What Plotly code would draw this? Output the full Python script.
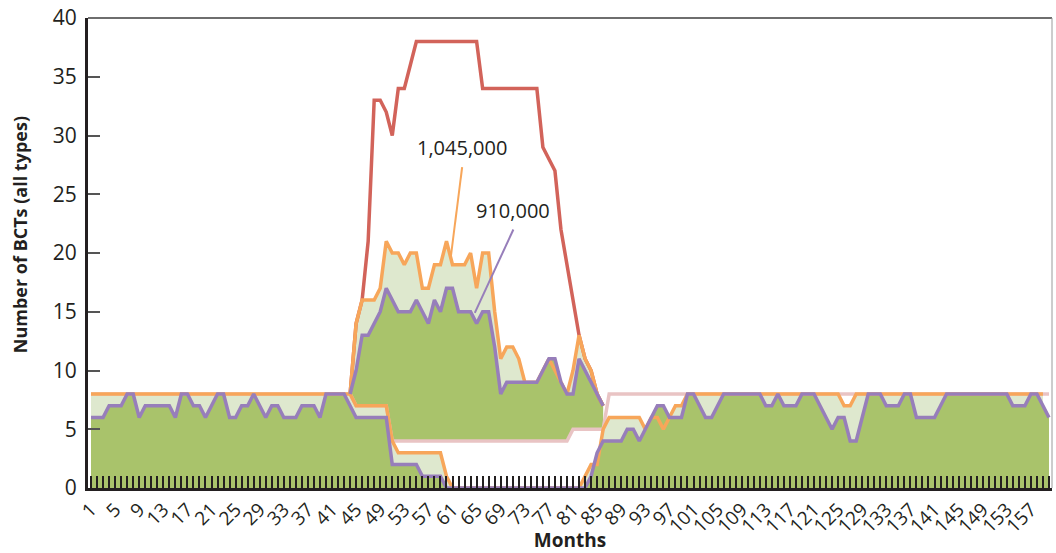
import plotly.graph_objects as go

months = list(range(1, 161))
deploy_months = list(range(44, 87))

# "home"/lower series, months 1..160
orange_home = ([8] * 44 + [7] * 6 + [4] + [3] * 8 + [1] + [0] * 22 +
               [1, 2, 2, 5, 6, 6, 6, 6, 6, 6, 5, 6, 6, 5, 6, 7, 7] +
               [8] * 26 + [7, 7] + [8] * 32)
purple_home = ([6, 6, 6, 7, 7, 7, 8, 8, 6, 7, 7, 7, 7, 7, 6, 8, 8, 7, 7, 6,
                7, 8, 8, 6, 6, 7, 7, 8, 7, 6, 7, 7, 6, 6, 6, 7, 7, 7, 6, 8,
                8, 8, 8, 7] +
               [6] * 6 + [2] * 5 + [1] * 4 + [0] * 24 +
               [1, 3, 4, 4, 4, 4, 5, 5, 4, 5, 6, 7, 7, 6, 6, 6, 8, 8, 7, 6,
                6, 7, 8, 8, 8, 8, 8, 8, 8, 7, 7, 8, 7, 7, 7, 8, 8, 8, 7, 6,
                5, 6, 6, 4, 4, 6, 8, 8, 8, 7, 7, 7, 8, 8, 6, 6, 6, 6, 7, 8,
                8, 8, 8, 8, 8, 8, 8, 8, 8, 8, 7, 7, 7, 8, 8, 7, 6, 5])
pink_home = [8] * 44 + [7] * 6 + [4] * 30 + [5] * 6 + [8] * 74

# deployed/upper series, months 44..86
red_deployed = [8, 14, 16, 21, 33, 33, 32, 30, 34, 34, 36, 38, 38, 38, 38, 38,
                38, 38, 38, 38, 38, 38, 34, 34, 34, 34, 34, 34, 34, 34, 34, 34,
                29, 28, 27, 22, 19, 16, 13, 11, 10, 8, 7]
orange_deployed = [8, 14, 16, 16, 16, 17, 21, 20, 20, 19, 20, 20, 17, 17, 19, 19,
                   21, 19, 19, 19, 20, 17, 20, 20, 15, 11, 12, 12, 11, 9, 9, 9,
                   10, 11, 10, 9, 8, 10, 13, 11, 10, 8, 7]
purple_deployed = [8, 10, 13, 13, 14, 15, 17, 16, 15, 15, 15, 16, 15, 14, 16, 15,
                   17, 17, 15, 15, 15, 14, 15, 15, 12, 8, 9, 9, 9, 9, 9, 9,
                   10, 11, 11, 9, 8, 8, 11, 10, 9, 8, 7]

tick_labels = [str(m) if (m - 1) % 4 == 0 else "" for m in months]
y_ticks = [0, 5, 10, 15, 20, 25, 30, 35, 40]

RED = "#D2635A"
ORANGE = "#F7A65A"
PURPLE = "#977EBA"
PINK = "#E9C4C4"
DARK_GREEN = "#A9C36B"
LIGHT_GREEN = "#DEE8CE"
FONT = "Open Sans"
TXT = "#231F20"

fig = go.Figure()


def area(x, y, color):
    fig.add_trace(go.Scatter(x=x, y=y, mode="lines", line=dict(width=0),
                             fill="tozeroy", fillcolor=color,
                             hoverinfo="skip", showlegend=False))


def line(x, y, color, w=3.5):
    fig.add_trace(go.Scatter(x=x, y=y, mode="lines",
                             line=dict(color=color, width=w),
                             hoverinfo="skip", showlegend=False))


area(deploy_months, orange_deployed, LIGHT_GREEN)
area(deploy_months, purple_deployed, DARK_GREEN)
area(months, pink_home, "white")
area(months, orange_home, LIGHT_GREEN)
area(months, purple_home, DARK_GREEN)

line(deploy_months, red_deployed, RED)
line(months, pink_home, PINK, 3.5)
line(deploy_months, orange_deployed, ORANGE)
line(months, orange_home, ORANGE)
line(deploy_months, purple_deployed, PURPLE)
line(months, purple_home, PURPLE)

# annotations with leader lines
fig.add_annotation(x=62.5, y=29.0, text="1,045,000", showarrow=False,
                   font=dict(family=FONT, size=20, color=TXT))
fig.add_shape(type="line", x0=62.6, y0=27.3, x1=60.7, y1=19.6,
              line=dict(color=ORANGE, width=2))
fig.add_annotation(x=71.1, y=23.6, text="910,000", showarrow=False,
                   font=dict(family=FONT, size=20, color=TXT))
fig.add_shape(type="line", x0=71.1, y0=22.0, x1=64.7, y1=14.9,
              line=dict(color=PURPLE, width=2))

# y-axis title
fig.add_annotation(xref="paper", yref="paper", x=-0.0705, y=0.538,
                   xanchor="center", yanchor="middle", textangle=-90,
                   text="<b>Number of BCTs (all types)</b>", showarrow=False,
                   font=dict(family=FONT, size=18, color=TXT))

# frame: top and right thin gray
fig.add_shape(type="line", xref="paper", yref="paper", x0=0, x1=1, y0=1, y1=1,
              line=dict(color="#6E6E6E", width=2))
fig.add_shape(type="line", xref="paper", yref="paper", x0=1, x1=1, y0=0, y1=1,
              line=dict(color="#9A9A9A", width=1))

fig.update_layout(
    width=1056, height=553,
    margin=dict(l=88, r=4, t=18, b=65),
    plot_bgcolor="white", paper_bgcolor="white",
    font=dict(family=FONT, color=TXT),
)
fig.update_xaxes(
    range=[0.5, 160.5], tickmode="array", tickvals=months, ticktext=tick_labels,
    tickangle=-45, ticks="inside", ticklen=12, tickwidth=1.5, tickcolor=TXT,
    showline=True, linecolor=TXT, linewidth=3, showgrid=False, zeroline=False,
    tickfont=dict(family=FONT, size=19, color=TXT),
    title=dict(text="<b>Months</b>", font=dict(family=FONT, size=19, color=TXT),
               standoff=4),
    automargin=False,
)
fig.update_yaxes(
    range=[0, 40], tickmode="array", tickvals=y_ticks,
    ticks="inside", ticklen=12, tickwidth=1.5, tickcolor="#555555",
    showline=True, linecolor=TXT, linewidth=3, showgrid=False, zeroline=False,
    tickfont=dict(family=FONT, size=21, color=TXT), ticklabelstandoff=4,
    ticklabeloverflow="allow",
    automargin=False,
)

fig.write_html("out.html",
               config={"displayModeBar": False},
               post_script="document.body.style.margin='0';"
                           "document.body.style.overflow='hidden';")
